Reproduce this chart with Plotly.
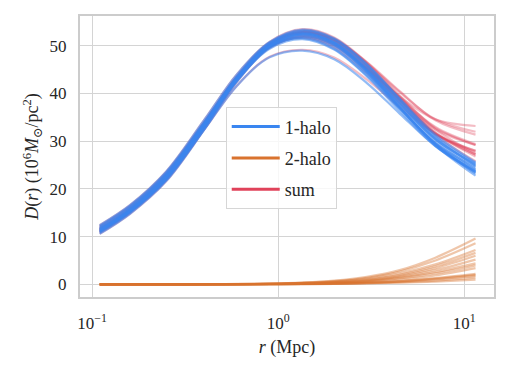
import plotly.graph_objects as go

r = [0.11, 0.16, 0.25, 0.4, 0.6, 0.9, 1.35, 2.0, 3.0, 4.5, 7.0, 11.5]

# 1-halo term per posterior sample
one_halo = [
    [11.0, 15.2, 22.0, 32.8, 42.6, 49.6, 51.8, 49.8, 44.2, 37.0, 29.5, 24.0],
    [11.8, 16.0, 23.0, 33.8, 43.6, 50.6, 52.8, 50.8, 45.2, 38.0, 30.5, 25.0],
    [10.6, 14.8, 21.6, 32.4, 42.4, 49.8, 52.4, 50.6, 45.0, 37.6, 29.6, 23.4],
    [12.2, 16.4, 23.4, 34.0, 43.4, 49.8, 51.6, 49.4, 43.8, 36.8, 29.6, 24.6],
    [11.4, 15.6, 22.6, 33.4, 43.2, 50.4, 53.0, 51.2, 45.8, 38.6, 30.8, 24.8],
    [11.2, 15.2, 22.0, 32.4, 41.6, 47.6, 49.0, 47.2, 42.2, 35.8, 29.0, 23.6],
    [12.4, 16.6, 23.6, 34.4, 44.0, 50.8, 53.4, 51.6, 46.2, 39.0, 31.4, 25.6],
    [10.8, 15.0, 21.8, 32.6, 42.8, 50.2, 52.6, 50.8, 45.4, 38.2, 30.2, 24.2],
    [11.6, 15.8, 22.8, 33.4, 42.8, 49.4, 51.4, 49.2, 43.6, 36.4, 29.0, 23.6],
    [11.0, 15.4, 22.4, 33.2, 43.0, 50.2, 52.6, 50.6, 44.8, 37.2, 29.4, 23.2],
    [12.0, 16.2, 23.2, 33.8, 43.2, 49.8, 52.0, 50.2, 44.8, 37.8, 30.4, 25.2],
    [11.2, 15.4, 22.2, 33.0, 42.8, 50.0, 52.4, 50.4, 44.6, 37.2, 29.2, 22.8],
    [11.6, 15.8, 22.8, 33.6, 43.4, 50.6, 53.2, 51.4, 46.0, 38.8, 31.0, 25.4],
    [11.4, 15.4, 22.4, 33.2, 43.0, 50.0, 52.2, 50.2, 44.4, 37.0, 29.2, 23.8],
]

# 2-halo term per posterior sample
two_halo = [
    [0.0, 0.0, 0.0, 0.02, 0.05, 0.10, 0.20, 0.40, 0.80, 1.60, 3.0, 5.2],
    [0.0, 0.0, 0.0, 0.01, 0.02, 0.05, 0.10, 0.20, 0.40, 0.70, 1.3, 2.2],
    [0.0, 0.0, 0.01, 0.03, 0.08, 0.16, 0.35, 0.70, 1.40, 2.70, 5.0, 8.6],
    [0.0, 0.0, 0.0, 0.01, 0.03, 0.06, 0.12, 0.25, 0.50, 1.00, 1.9, 3.4],
    [0.0, 0.0, 0.0, 0.0, 0.01, 0.02, 0.05, 0.10, 0.20, 0.35, 0.6, 1.0],
    [0.0, 0.0, 0.0, 0.02, 0.04, 0.09, 0.18, 0.36, 0.70, 1.40, 2.6, 4.4],
    [0.0, 0.0, 0.0, 0.01, 0.02, 0.04, 0.08, 0.16, 0.30, 0.60, 1.1, 1.8],
    [0.0, 0.0, 0.01, 0.03, 0.07, 0.14, 0.30, 0.60, 1.20, 2.30, 4.2, 7.2],
    [0.0, 0.0, 0.01, 0.04, 0.09, 0.18, 0.40, 0.80, 1.60, 3.00, 5.6, 9.6],
    [0.0, 0.0, 0.0, 0.02, 0.05, 0.10, 0.22, 0.45, 0.90, 1.80, 3.4, 6.0],
    [0.0, 0.0, 0.0, 0.01, 0.02, 0.04, 0.09, 0.18, 0.35, 0.65, 1.2, 2.0],
    [0.0, 0.0, 0.01, 0.03, 0.06, 0.12, 0.26, 0.52, 1.05, 2.00, 3.8, 6.6],
    [0.0, 0.0, 0.0, 0.0, 0.01, 0.03, 0.06, 0.12, 0.24, 0.45, 0.8, 1.4],
    [0.0, 0.0, 0.0, 0.02, 0.04, 0.08, 0.16, 0.32, 0.65, 1.25, 2.3, 4.0],
]

BLUE = "#3a86f0"
ORANGE = "#d9732e"
RED = "#e0425a"
FONT = "Liberation Serif, DejaVu Serif, serif"

totals = [[a + b for a, b in zip(one, two)] for one, two in zip(one_halo, two_halo)]

fig = go.Figure()

# sums underneath, then 1-halo, then 2-halo
for group, col, op in ((totals, RED, 0.35), (one_halo, BLUE, 0.55), (two_halo, ORANGE, 0.4)):
    for ys in group:
        fig.add_trace(go.Scatter(x=r, y=ys, mode="lines", line=dict(color=col, width=2.2, shape="spline"),
                                 opacity=op, showlegend=False, hoverinfo="skip"))

# legend entries drawn at full colour
for name, col in (("1-halo", BLUE), ("2-halo", ORANGE), ("sum", RED)):
    fig.add_trace(go.Scatter(x=[None], y=[None], mode="lines", name=name, legendgroup=name,
                             line=dict(color=col, width=3)))

# page body has an 8px margin, so the figure is a bit smaller than the window
fig.update_layout(
    width=499, height=367,
    margin=dict(l=72, r=13, t=6, b=78),
    plot_bgcolor="white", paper_bgcolor="white",
    font=dict(family=FONT, size=17, color="#262626"),
    legend=dict(x=0.352, y=0.675, xanchor="left", yanchor="top",
                bgcolor="rgba(255,255,255,0.8)", bordercolor="#d6d6d6", borderwidth=1,
                font=dict(size=18), tracegroupgap=5, itemwidth=48),
)
fig.update_xaxes(
    type="log", range=[-1.0645, 1.16],
    tickvals=[0.1, 1, 10], ticktext=["10<sup>−1</sup>", "10<sup>0</sup>", "10<sup>1</sup>"],
    showgrid=True, gridcolor="#d4d4d4", gridwidth=1.2,
    showline=True, linecolor="#cccccc", linewidth=2, mirror=True, zeroline=False,
    ticks="", ticklabelstandoff=10,
    title=dict(text="<i>r</i> (Mpc)", standoff=8, font=dict(size=18)),
)
fig.update_yaxes(
    range=[-2.64, 56.25], tickvals=[0, 10, 20, 30, 40, 50],
    showgrid=True, gridcolor="#d4d4d4", gridwidth=1.2,
    showline=True, linecolor="#cccccc", linewidth=2, mirror=True, zeroline=False,
    ticks="", ticklabelstandoff=8,
    title=dict(text="<i>D</i>(<i>r</i>) (10<sup>6</sup><i>M</i><sub>⊙</sub>/pc<sup>2</sup>)", standoff=6,
               font=dict(size=18)),
)

fig.write_html("out.html")
